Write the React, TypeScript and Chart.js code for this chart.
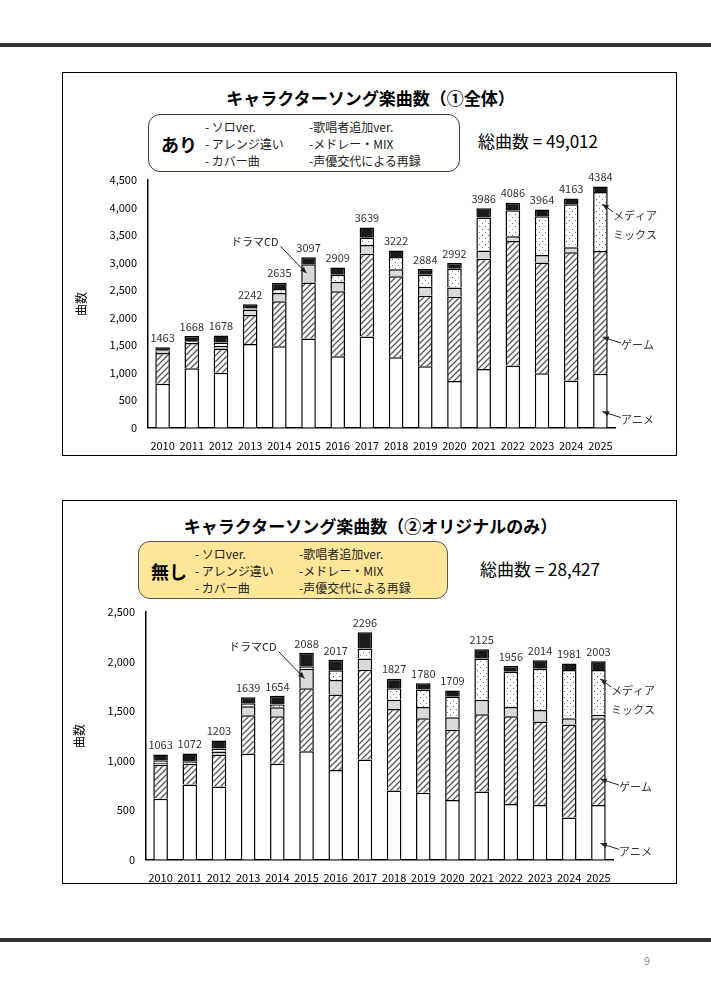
import { useEffect, useRef } from "react"
import { Chart, registerables } from "chart.js"

Chart.register(...registerables)

const years = ["2010", "2011", "2012", "2013", "2014", "2015", "2016", "2017", "2018", "2019", "2020", "2021", "2022", "2023", "2024", "2025"]

// ① 全体
const allAnime = [800, 1080, 1000, 1520, 1480, 1620, 1300, 1660, 1280, 1120, 850, 1070, 1130, 990, 860, 980]
const allGame = [560, 460, 440, 530, 820, 1020, 1180, 1500, 1470, 1280, 1530, 2000, 2260, 2010, 2330, 2230]
const allDrama = [20, 0, 50, 100, 150, 330, 170, 160, 130, 160, 170, 150, 90, 140, 90, 0]
const allMedia = [20, 30, 60, 20, 70, 0, 130, 130, 220, 220, 340, 600, 470, 700, 780, 1070]
const allOther = [63, 98, 128, 72, 115, 127, 129, 189, 122, 104, 102, 166, 136, 124, 103, 104]
const allTotal = [1463, 1668, 1678, 2242, 2635, 3097, 2909, 3639, 3222, 2884, 2992, 3986, 4086, 3964, 4163, 4384]

// ② オリジナルのみ
const orgAnime = [615, 760, 740, 1073, 969, 1094, 906, 1011, 698, 677, 604, 688, 563, 552, 427, 552]
const orgGame = [345, 210, 323, 386, 479, 636, 761, 906, 823, 751, 709, 781, 885, 844, 938, 876]
const orgDrama = [20, 0, 30, 90, 90, 198, 146, 115, 94, 114, 125, 146, 94, 115, 63, 35]
const orgMedia = [20, 20, 30, 30, 30, 20, 100, 100, 115, 177, 208, 417, 354, 417, 486, 453]
const orgOther = [63, 82, 80, 60, 86, 140, 104, 164, 97, 61, 63, 93, 60, 86, 67, 87]
const orgTotal = [1063, 1072, 1203, 1639, 1654, 2088, 2017, 2296, 1827, 1780, 1709, 2125, 1956, 2014, 1981, 2003]

const FONT = "'Noto Sans CJK JP', 'Noto Sans', sans-serif"

function makePattern(kind: "hatch" | "dots") {
  const c = document.createElement("canvas")
  c.width = 6
  c.height = 6
  const g = c.getContext("2d")!
  g.fillStyle = "#fff"
  g.fillRect(0, 0, 6, 6)
  if (kind === "hatch") {
    g.strokeStyle = "#555"
    g.lineWidth = 1.3
    g.beginPath()
    g.moveTo(0, 6)
    g.lineTo(6, 0)
    g.moveTo(-3, 3)
    g.lineTo(3, -3)
    g.moveTo(3, 9)
    g.lineTo(9, 3)
    g.stroke()
  } else {
    g.fillStyle = "#777"
    g.fillRect(1, 1, 1, 1)
    g.fillRect(4, 4, 1, 1)
  }
  return g.createPattern(c, "repeat")!
}

type Props = {
  anime: number[]
  game: number[]
  drama: number[]
  media: number[]
  other: number[]
  totals: number[]
  max: number
  step: number
}

function StackChart({ anime, game, drama, media, other, totals, max, step }: Props) {
  const ref = useRef<HTMLCanvasElement>(null)
  useEffect(() => {
    if (!ref.current) return
    const hatch = makePattern("hatch")
    const dots = makePattern("dots")
    const ds = (label: string, data: number[], bg: any) => ({
      label,
      data,
      backgroundColor: bg,
      borderColor: "#000",
      borderWidth: 1.5,
      barPercentage: 0.5,
      categoryPercentage: 1,
    })
    const annot = {
      id: "annot",
      afterDatasetsDraw(chart: any) {
        const ctx = chart.ctx
        const x = chart.scales.x
        const y = chart.scales.y
        ctx.save()
        ctx.fillStyle = "#333"
        ctx.font = `11px ${FONT}`
        ctx.textAlign = "center"
        ctx.textBaseline = "bottom"
        totals.forEach((t, i) => ctx.fillText(String(t), x.getPixelForValue(i), y.getPixelForValue(t) - 4))
        const arrow = (fx: number, fy: number, tx: number, ty: number) => {
          ctx.strokeStyle = "#222"
          ctx.fillStyle = "#222"
          ctx.lineWidth = 1
          ctx.beginPath()
          ctx.moveTo(fx, fy)
          ctx.lineTo(tx, ty)
          ctx.stroke()
          const a = Math.atan2(ty - fy, tx - fx)
          ctx.beginPath()
          ctx.moveTo(tx, ty)
          ctx.lineTo(tx - 7 * Math.cos(a - 0.4), ty - 7 * Math.sin(a - 0.4))
          ctx.lineTo(tx - 7 * Math.cos(a + 0.4), ty - 7 * Math.sin(a + 0.4))
          ctx.closePath()
          ctx.fill()
        }
        // side labels for the last bar
        const n = totals.length - 1
        const bx = x.getPixelForValue(n) + 2
        const lx = chart.chartArea.right + 6
        ctx.textAlign = "left"
        ctx.textBaseline = "middle"
        ctx.fillStyle = "#333"
        const mediaMid = anime[n] + game[n] + drama[n] + media[n] * 0.8
        const my = y.getPixelForValue(mediaMid)
        ctx.fillText("メディア", lx - 8, my + 12)
        ctx.fillText("ミックス", lx - 8, my + 31)
        arrow(lx - 8, my + 8, bx, my)
        const gy = y.getPixelForValue(anime[n] + game[n] * 0.3)
        ctx.fillStyle = "#333"
        ctx.fillText("ゲーム", lx, gy + 8)
        arrow(lx, gy + 6, bx, gy)
        const ay = y.getPixelForValue(anime[n] * 0.3)
        ctx.fillStyle = "#333"
        ctx.fillText("アニメ", lx, ay + 8)
        arrow(lx, ay + 6, bx, ay)
        // ドラマCD label on 2015
        const di = 5
        const dy = y.getPixelForValue(anime[di] + game[di] + drama[di] / 2)
        const dx = x.getPixelForValue(di) - 2
        ctx.fillStyle = "#222"
        ctx.textAlign = "right"
        ctx.fillText("ドラマCD", dx - 28, dy - 32)
        arrow(dx - 26, dy - 27, dx, dy)
        ctx.restore()
      },
    }
    const chart = new Chart(ref.current, {
      type: "bar",
      data: {
        labels: years,
        datasets: [
          ds("アニメ", anime, "#fff"),
          ds("ゲーム", game, hatch),
          ds("ドラマCD", drama, "#d9d9d9"),
          ds("メディアミックス", media, dots),
          ds("その他", other, "#1a1a1a"),
        ],
      },
      options: {
        animation: false,
        responsive: false,
        layout: { padding: { top: 15, right: 62, bottom: 0, left: 0 } },
        plugins: { legend: { display: false }, tooltip: { enabled: false } },
        scales: {
          x: {
            stacked: true,
            grid: { display: false },
            border: { color: "#000", width: 1.5 },
            ticks: { color: "#000", font: { family: FONT, size: 11 }, maxRotation: 0, autoSkip: false },
          },
          y: {
            stacked: true,
            min: 0,
            max,
            grid: { display: false },
            border: { color: "#000", width: 1.5 },
            ticks: { stepSize: step, color: "#000", font: { family: FONT, size: 11 } },
            title: { display: true, text: "曲数", color: "#000", font: { family: FONT, size: 12 } },
            afterFit: (s: any) => {
              s.width = 78
            },
          },
        },
      },
      plugins: [annot],
    })
    return () => chart.destroy()
  }, [])
  return <canvas ref={ref} width={607} height={290} />
}

const boxStyle: React.CSSProperties = {
  position: "absolute",
  left: 62,
  width: 615,
  height: 384,
  border: "1px solid #000",
  boxSizing: "border-box",
}

function Legend({ label, bg, border, left, top, width }: any) {
  return (
    <div
      style={{
        position: "absolute",
        left,
        top,
        width,
        height: 58,
        background: bg,
        border: `1.5px solid ${border}`,
        borderRadius: 12,
        boxSizing: "border-box",
        fontFamily: FONT,
        fontSize: 12,
        color: "#222",
      }}
    >
      <div style={{ position: "absolute", left: 12, top: 16, fontSize: 18, fontWeight: "bold", color: "#000" }}>{label}</div>
      <div style={{ position: "absolute", left: 56, top: 3, lineHeight: "17px" }}>
        <div>- ソロver.</div>
        <div>- アレンジ違い</div>
        <div>- カバー曲</div>
      </div>
      <div style={{ position: "absolute", left: 160, top: 3, lineHeight: "17px" }}>
        <div>-歌唱者追加ver.</div>
        <div>-メドレー・MIX</div>
        <div>-声優交代による再録</div>
      </div>
    </div>
  )
}

export default function App() {
  useEffect(() => {
    document.body.style.margin = "0"
  }, [])
  const title: React.CSSProperties = {
    position: "absolute",
    left: 0,
    width: 615,
    textAlign: "center",
    fontFamily: FONT,
    fontWeight: "bold",
    fontSize: 17,
    color: "#000",
  }
  return (
    <div style={{ position: "relative", width: 711, height: 994, background: "#fff", fontFamily: FONT }}>
      <div style={{ position: "absolute", left: 0, top: 43, width: 711, height: 4, background: "#333" }} />
      <div style={{ position: "absolute", left: 0, top: 938, width: 711, height: 4, background: "#333" }} />
      <div style={{ position: "absolute", left: 644, top: 952, fontSize: 11, color: "#888" }}>9</div>

      <div style={{ ...boxStyle, top: 72 }}>
        <div style={{ ...title, top: 12 }}>キャラクターソング楽曲数（①全体）</div>
      </div>
      <Legend label="あり" bg="#fff" border="#2f3b4c" left={148} top={114} width={312} />
      <div style={{ position: "absolute", left: 478, top: 128, fontSize: 17, color: "#000" }}>総曲数 = 49,012</div>
      <div style={{ position: "absolute", left: 70, top: 165 }}>
        <StackChart anime={allAnime} game={allGame} drama={allDrama} media={allMedia} other={allOther} totals={allTotal} max={4500} step={500} />
      </div>

      <div style={{ ...boxStyle, top: 500 }}>
        <div style={{ ...title, top: 12 }}>キャラクターソング楽曲数（②オリジナルのみ）</div>
      </div>
      <Legend label="無し" bg="#ffe699" border="#555" left={138} top={541} width={310} />
      <div style={{ position: "absolute", left: 480, top: 556, fontSize: 17, color: "#000" }}>総曲数 = 28,427</div>
      <div style={{ position: "absolute", left: 68, top: 597 }}>
        <StackChart anime={orgAnime} game={orgGame} drama={orgDrama} media={orgMedia} other={orgOther} totals={orgTotal} max={2500} step={500} />
      </div>
    </div>
  )
}
